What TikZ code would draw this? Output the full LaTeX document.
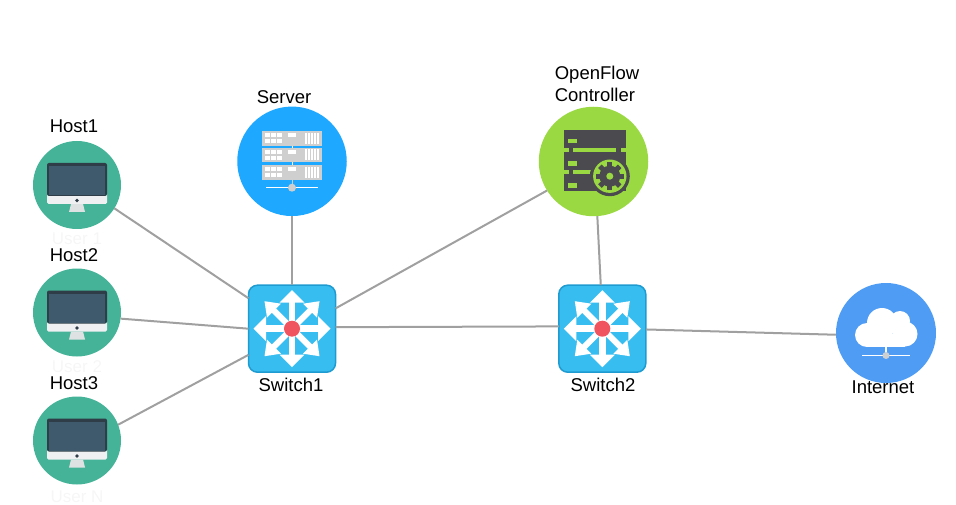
\documentclass[tikz,border=0pt]{standalone}
\usepackage{fontspec}
\setmainfont{Liberation Sans}
\definecolor{hostc}{HTML}{45B397}
\definecolor{serverc}{HTML}{1FA8FF}
\definecolor{ctrlc}{HTML}{9BD943}
\definecolor{netc}{HTML}{4F9CF5}
\definecolor{swc}{HTML}{38BDF0}
\definecolor{swb}{HTML}{1E9BD0}
\definecolor{linkc}{HTML}{A0A0A0}
\definecolor{darkc}{HTML}{4A4A4F}
\definecolor{rackc}{HTML}{CFCFCF}
\definecolor{faintc}{HTML}{F6F6F6}
\definecolor{framec}{HTML}{2E3D47}
\definecolor{screenc}{HTML}{3F5A6C}
\definecolor{basec}{HTML}{EEF0F2}
\definecolor{standc}{HTML}{DFE2E2}
\definecolor{dotred}{HTML}{F0555F}
\tikzset{
  every node/.style={inner sep=0pt,outer sep=0pt},
  label text/.style={font=\fontsize{18.5}{22}\selectfont,text=black,align=left},
  faint text/.style={font=\fontsize{17}{20}\selectfont,text=faintc},
  hostnode/.style={circle,fill=hostc,minimum size=88pt},
  bignode/.style={circle,minimum size=109.5pt},
  netnode/.style={circle,fill=netc,minimum size=100pt},
  swnode/.style={rectangle,rounded corners=9pt,fill=swc,draw=swb,line width=1.5pt,minimum size=87pt},
  link/.style={draw=linkc,line width=2pt},
  monitor/.pic={
    \fill[standc] (-6,19) -- (6,19) -- (8,27) -- (-8,27) -- cycle;
    \fill[basec,rounded corners=1.5pt] (-30,8) rectangle (30,19);
    \fill[framec,rounded corners=2pt] (-30,-22) rectangle (30,11);
    \fill[screenc] (-28,-18.5) rectangle (28,10);
    \fill[framec] (0,15.5) circle (1.8);
  },
  rack/.pic={
    \fill[rackc] (-30,-7.3) rectangle (30,7.3);
    \foreach \x in {-27,-21,-15}{\fill[white] (\x,-5) rectangle ++(4.8,3.8);\fill[white] (\x,1) rectangle ++(4.8,3.8);}
    \fill[white] (-4,-5) rectangle (4,-1);
    \foreach \x in {13,16,19,22,25}{\fill[white] (\x,-5.5) rectangle ++(1.8,11);}
  },
  serverpic/.pic={
    \pic at (0,-23) {rack};
    \pic at (0,-6.3) {rack};
    \pic at (0,11) {rack};
    \draw[white,line width=1.5pt] (-26,26.4) -- (26,26.4);
    \draw[rackc,line width=1pt] (0,18) -- (0,26.4);
    \draw[white,line width=1pt] (0,-15.6) -- (0,-13.6) (0,1) -- (0,3.7);
    \fill[rackc] (0,26.4) circle (4);
  },
  ctrlpic/.pic={
    \fill[darkc] (-30,-31) rectangle (32,30);
    \foreach \y in {-20.3,2,24}{\fill[ctrlc] (-26,\y-2.3) rectangle (-17,\y+2.3);}
    \fill[ctrlc] (-21,-13.6) rectangle (22,-9);
    \fill[ctrlc] (-30,-13.6) rectangle (-25,-9);
    \fill[ctrlc] (27.5,-13.6) rectangle (32,-9);
    \fill[ctrlc] (-21,8.4) rectangle (-2,13);
    \fill[ctrlc] (-30,8.4) rectangle (-25,13);
    \fill[darkc] (16.3,14.7) circle (20);
    \fill[ctrlc] (16.3,14.7) circle (16.7);
    \fill[darkc] (16.3,14.7) circle (10.5);
    \foreach \t in {0,45,...,315}{\fill[darkc,shift={(16.3,14.7)},rotate=\t] (-2.5,-14) rectangle (2.5,-9);}
    \fill[ctrlc] (16.3,14.7) circle (3.5);
  },
  arrowo/.pic={
    \draw[white,line width=6.5pt] (0,0) -- (0,-27);
    \fill[white] (0,-38.5) -- (12.5,-26) -- (-12.5,-26) -- cycle;
  },
  arrowd/.pic={
    \draw[white,line width=6pt] (0,0) -- (-20,-20);
    \fill[white] (-27.5,-27.5) -- (-11,-25) -- (-25,-11) -- cycle;
  },
  swpic/.pic={
    \foreach \t in {0,90,180,270}{\pic[rotate=\t] {arrowo}; \pic[rotate=\t] {arrowd};}
    \fill[dotred] (0,0) circle (8);
  },
  cloudpic/.pic={
    \fill[white] (-4,-10) circle (15);
    \fill[white] (14,-12) circle (10);
    \fill[white] (19,1) circle (12.5);
    \fill[white] (-19,2) circle (12);
    \fill[white] (-19,1) rectangle (19,14);
    \draw[white,line width=1.5pt] (-24,22.5) -- (24,22.5);
    \draw[white,line width=1.2pt] (0,13) -- (0,22);
    \fill[rackc] (0,22.5) circle (3.5);
  }
}
\begin{document}
\begin{tikzpicture}[x=1pt,y=-1pt]
\useasboundingbox (0,0) rectangle (956,505);
\node[faint text] (u1) at (77,239) {User 1};
\node[faint text] (u2) at (77,367) {User 2};
\node[faint text] (un) at (77,497) {User N};
\node[hostnode] (h1) at (77,185) {};
\node[hostnode] (h2) at (77,312.5) {};
\node[hostnode] (h3) at (77,440.5) {};
\node[bignode,fill=serverc] (srv) at (292,161.3) {};
\node[bignode,fill=ctrlc] (ctl) at (593.5,161.5) {};
\node[swnode] (s1) at (292,328.7) {};
\node[swnode] (s2) at (602.3,328.7) {};
\node[netnode] (net) at (886,333) {};
\pic at (h1) {monitor};
\pic at (h2) {monitor};
\pic at (h3) {monitor};
\pic at (srv) {serverpic};
\pic at (ctl) {ctrlpic};
\pic at (s1) {swpic};
\pic at (s2) {swpic};
\pic at (net) {cloudpic};
\draw[link] (h1.-32.9) -- (s1.145.3);
\draw[link] (h2.-8.7) -- (s1.180);
\draw[link] (h3.21) -- (s1.211);
\draw[link] (srv) -- (s1);
\draw[link] (ctl.212) -- (s1.25.2);
\draw[link] (ctl.274.7) -- (s2.92);
\draw[link] (s1.2.6) -- (s2.177.4);
\draw[link] (s2.-1.7) -- (net.182.3);
\node[label text] (l1) at (74,126) {Host1};
\node[label text] (l2) at (74,255) {Host2};
\node[label text] (l3) at (74,383) {Host3};
\node[label text] (l4) at (284,97) {Server};
\node[label text] (l5) at (597,84) {OpenFlow\\Controller};
\node[label text] (l6) at (291,385) {Switch1};
\node[label text] (l7) at (603,385) {Switch2};
\node[label text] (l8) at (883,387) {Internet};
\end{tikzpicture}
\end{document}
